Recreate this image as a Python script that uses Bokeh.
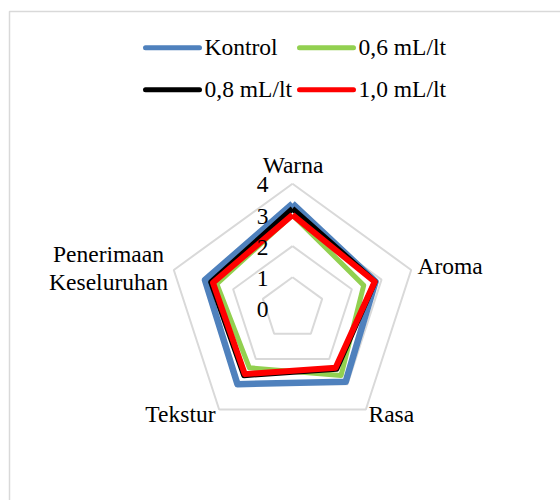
import numpy as np
from bokeh.plotting import figure
from bokeh.models import Range1d
from bokeh.core.properties import value
from bokeh.embed import file_html
from bokeh.resources import INLINE

# ---- data ----
categories = ["Warna", "Aroma", "Rasa", "Tekstur", "Penerimaan\nKeseluruhan"]
series_names = ["Kontrol", "0,6 mL/lt", "0,8 mL/lt", "1,0 mL/lt"]
kontrol = [3.36, 2.80, 2.90, 3.00, 2.95]
ml_06 = [3.00, 2.40, 2.65, 2.35, 2.55]
ml_08 = [3.20, 2.78, 2.40, 2.65, 2.75]
ml_10 = [3.00, 2.77, 2.35, 2.60, 2.68]
ticks = [0, 1, 2, 3, 4]

# ---- layout (page pixels; Bokeh's page template has no body margin) ----
W, H = 560, 500
OX, OY = 0, 0
CX, CY, UNIT = 292.0, 308.0, 31.2
FONT = value("Liberation Serif")
FS = "23.5px"
TSHIFT = 8.5  # svg text renders lower than the alphabetic baseline asked for

def ux(px):
    return (px - CX) / UNIT

def uy(py):
    return (CY - py) / UNIT

def ty(py):
    return uy(py - TSHIFT)

p = figure(width=W, height=H, output_backend="svg", toolbar_location=None,
           x_range=Range1d(ux(OX), ux(OX + W)), y_range=Range1d(uy(OY + H), uy(OY)),
           min_border=0, outline_line_color=None, background_fill_color="white",
           border_fill_color="white")
p.axis.visible = False
p.grid.visible = False

# chart frame (top and left edges visible)
p.line([ux(562), ux(9), ux(9)], [uy(11), uy(11), uy(505)], line_color="#d9d9d9", line_width=1.5)

n = len(categories)
ang = np.deg2rad(90 - 72 * np.arange(n))

# grid rings
for t in ticks[1:]:
    xs = list(t * np.cos(ang)) + [t * np.cos(ang[0])]
    ys = list(t * np.sin(ang)) + [t * np.sin(ang[0])]
    p.line(xs, ys, line_color="#d9d9d9", line_width=2)

# data polygons
colors = ["#4f81bd", "#92d050", "#000000", "#ff0000"]
widths = [6.5, 5, 5.5, 6]
for vals, c, w in zip([kontrol, ml_06, ml_08, ml_10], colors, widths):
    v = np.array(vals + [vals[0]])
    a = np.append(ang, ang[0])
    p.line(v * np.cos(a), v * np.sin(a), line_color=c, line_width=w, line_join="round")

# tick labels
p.text(x=[ux(268)] * len(ticks), y=[t - (9.7 - TSHIFT) / UNIT for t in ticks],
       text=[str(t) for t in ticks],
       text_font=FONT, text_font_size=FS, text_align="right", text_baseline="alphabetic",
       text_color="#000000")

# category labels
lab_x = [ux(292.5), ux(417), ux(368), ux(215), ux(108)]
lab_y = [ty(173.3), ty(273.5), ty(421.7), ty(421.7), ty(261.7)]
aligns = ["center", "left", "left", "right", "center"]
for i, cat in enumerate(categories):
    lines = cat.split("\n")
    for j, ln in enumerate(lines):
        p.text(x=[lab_x[i]], y=[lab_y[i] - j * 28.3 / UNIT], text=[ln], text_font=FONT,
               text_font_size=FS, text_align=aligns[i], text_baseline="alphabetic",
               text_color="#000000")

# legend
leg_pos = [(145, 47.3), (299, 47.3), (145, 89.3), (299, 89.3)]
for (lx, ly), name, c in zip(leg_pos, series_names, colors):
    p.line([ux(lx), ux(lx + 54)], [uy(ly), uy(ly)], line_color=c, line_width=5, line_cap="round")
    p.text(x=[ux(lx + 59)], y=[ty(ly + 7.7)], text=[name], text_font=FONT, text_font_size=FS,
           text_align="left", text_baseline="alphabetic", text_color="#000000")

open("out.html", "w").write(file_html(p, INLINE))
